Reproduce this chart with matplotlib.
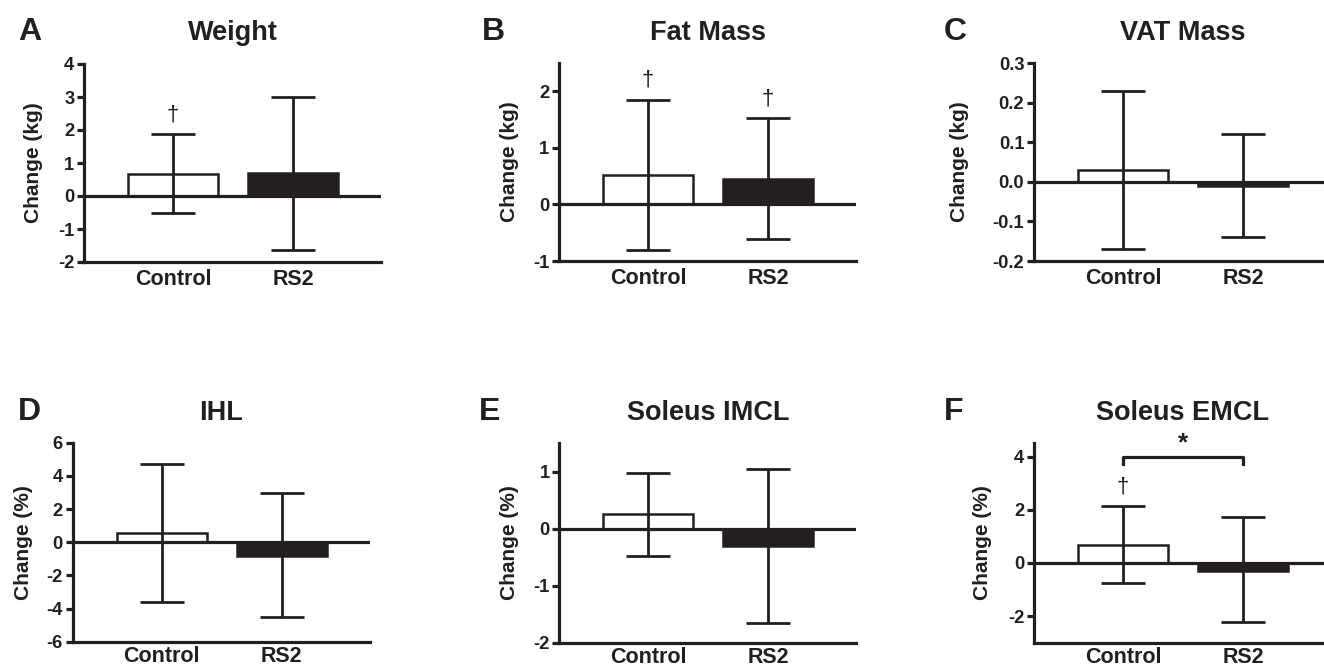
import matplotlib
matplotlib.use("Agg")
import matplotlib.pyplot as plt

plt.rcParams['font.family'] = ['Liberation Sans', 'DejaVu Sans']
plt.rcParams['font.weight'] = 'bold'
plt.rcParams['axes.unicode_minus'] = False

INK = '#231f20'

groups = ["Control", "RS2"]
letters = ["A", "B", "C", "D", "E", "F"]
titles = ["Weight", "Fat Mass", "VAT Mass", "IHL", "Soleus IMCL", "Soleus EMCL"]
ylabels = ["Change (kg)", "Change (kg)", "Change (kg)", "Change (%)", "Change (%)", "Change (%)"]

# mean, upper and lower ends of the error bars (Control, RS2)
weight_mean = [0.68, 0.71]
weight_hi = [1.88, 3.0]
weight_lo = [-0.53, -1.64]

fat_mean = [0.52, 0.45]
fat_hi = [1.85, 1.52]
fat_lo = [-0.81, -0.61]

vat_mean = [0.03, -0.01]
vat_hi = [0.23, 0.12]
vat_lo = [-0.17, -0.14]

ihl_mean = [0.58, -0.83]
ihl_hi = [4.72, 2.99]
ihl_lo = [-3.61, -4.52]

imcl_mean = [0.26, -0.31]
imcl_hi = [0.97, 1.05]
imcl_lo = [-0.48, -1.65]

emcl_mean = [0.69, -0.29]
emcl_hi = [2.14, 1.71]
emcl_lo = [-0.77, -2.24]

ylims = [(-2, 4), (-1, 2.5), (-0.2, 0.3), (-6, 6), (-2, 1.5), (-3, 4.5)]
yticks = [[-2, -1, 0, 1, 2, 3, 4], [-1, 0, 1, 2], [-0.2, -0.1, 0.0, 0.1, 0.2, 0.3],
          [-6, -4, -2, 0, 2, 4, 6], [-2, -1, 0, 1], [-2, 0, 2, 4]]
ytickfmt = ["{:g}", "{:g}", "{:.1f}", "{:g}", "{:g}", "{:g}"]

# significance markers: dagger on which groups
daggers = [[0], [0, 1], [], [], [], [0]]
# bracket between groups (panel F)
bracket_panel = 5
bracket_y = 4.0
bracket_drop = 0.28

datasets = [
    (weight_mean, weight_hi, weight_lo),
    (fat_mean, fat_hi, fat_lo),
    (vat_mean, vat_hi, vat_lo),
    (ihl_mean, ihl_hi, ihl_lo),
    (imcl_mean, imcl_hi, imcl_lo),
    (emcl_mean, emcl_hi, emcl_lo),
]

W, H = 1324, 667
fig = plt.figure(figsize=(W / 100, H / 100), dpi=100)

# axes boxes in pixels: left, top, bottom
boxes = [(84, 64, 262), (559, 63, 261), (1034, 63, 261),
         (72.7, 442.7, 641.7), (559.3, 443.3, 642.7), (1034, 443.3, 642.7)]
axw = 297
label_x = [-0.137, -0.133, -0.218, -0.133, -0.135, -0.142]
letter_x = [18, 482, 944, 18, 479, 944]
title_base = [39.5, 39.5, 39.5, 420.5, 420.5, 420.5]
xpad = [5, 5, 5, 3, 3, 3]

xpos = [0, 1]
barw = 0.75

for i in range(6):
    left, top, bot = boxes[i]
    ax = fig.add_axes([left / W, 1 - bot / H, axw / W, (bot - top) / H])
    m, hi, lo = datasets[i]
    colors = ['white', INK]
    ax.bar(xpos, m, width=barw, color=colors, edgecolor=INK, linewidth=1.8, zorder=2)
    yerr = [[m[k] - lo[k] for k in range(2)], [hi[k] - m[k] for k in range(2)]]
    ax.errorbar(xpos, m, yerr=yerr, fmt='none', ecolor=INK, elinewidth=2.0,
                capsize=16, capthick=2.0, zorder=3)
    ax.axhline(0, color=INK, lw=2.3, zorder=4)
    ax.set_xlim(-0.742, 1.733)
    ax.set_ylim(*ylims[i])
    ax.set_yticks(yticks[i])
    ax.set_yticklabels([ytickfmt[i].format(v) for v in yticks[i]])
    ax.set_xticks(xpos)
    ax.set_xticklabels(groups)
    ax.tick_params(axis='x', length=0, pad=xpad[i], labelsize=15.5, colors=INK)
    ax.tick_params(axis='y', length=5, width=2.3, pad=2, labelsize=13.2, colors=INK)
    for lab in ax.get_xticklabels() + ax.get_yticklabels():
        lab.set_fontweight('bold')
    for s in ['top', 'right']:
        ax.spines[s].set_visible(False)
    for s in ['left', 'bottom']:
        ax.spines[s].set_linewidth(2.3)
        ax.spines[s].set_color(INK)
    ax.set_ylabel(ylabels[i], fontsize=15, fontweight='bold', color=INK)
    ax.yaxis.set_label_coords(label_x[i], 0.5)
    rng = ylims[i][1] - ylims[i][0]
    for g in daggers[i]:
        ax.text(xpos[g], hi[g] + 0.045 * rng, '\u2020', ha='center', va='bottom',
                fontsize=16, fontweight='normal', color=INK, zorder=5)
    if i == bracket_panel:
        ax.plot([xpos[0], xpos[0], xpos[1], xpos[1]],
                [bracket_y - bracket_drop, bracket_y, bracket_y, bracket_y - bracket_drop],
                color=INK, lw=2.3, clip_on=False, zorder=5)
        ax.text((xpos[0] + xpos[1]) / 2, bracket_y + 0.05, '*', ha='center', va='bottom',
                fontsize=19, fontweight='bold', color=INK, clip_on=False)
    # title & panel letter
    fig.text((left + axw / 2) / W, 1 - title_base[i] / H, titles[i], ha='center',
             va='baseline', fontsize=19.5, fontweight='bold', color=INK)
    fig.text(letter_x[i] / W, 1 - title_base[i] / H, letters[i], ha='left',
             va='baseline', fontsize=23, fontweight='bold', color=INK)

fig.savefig('out.png', dpi=100)
